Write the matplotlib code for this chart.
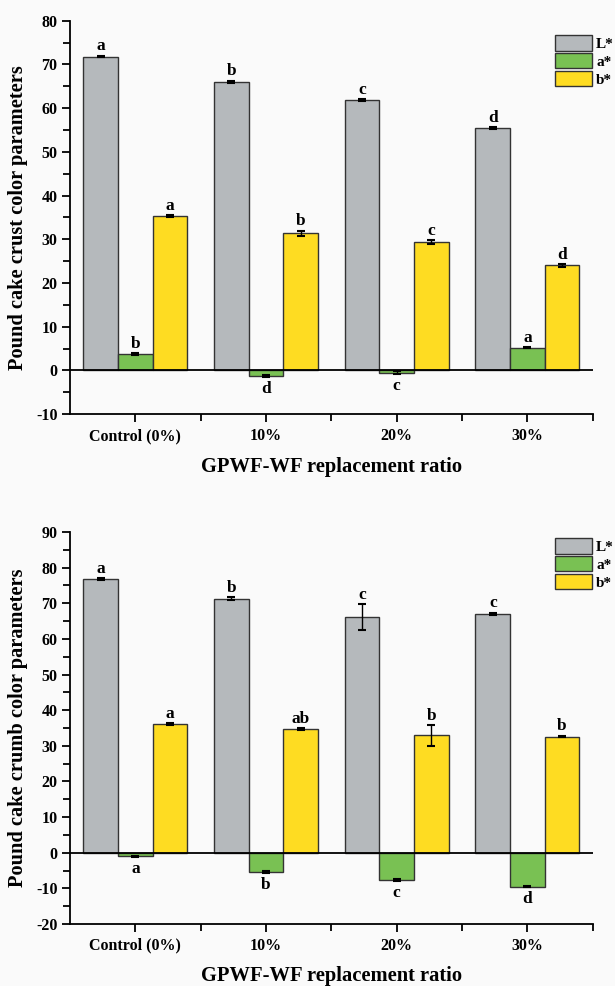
import numpy as np
import matplotlib
matplotlib.use('Agg')
import matplotlib.pyplot as plt
from matplotlib.patches import Patch
from matplotlib.ticker import MultipleLocator, FixedLocator

groups = ['Control (0%)', '10%', '20%', '30%']
series = ['L*', 'a*', 'b*']

# crust
crust_L = [71.8, 66.0, 61.9, 55.5]
crust_a = [3.8, -1.3, -0.5, 5.2]
crust_b = [35.3, 31.4, 29.4, 24.0]
crust_L_err = [0.2, 0.3, 0.2, 0.2]
crust_a_err = [0.2, 0.2, 0.3, 0.1]
crust_b_err = [0.2, 0.6, 0.4, 0.3]
crust_L_sig = ['a', 'b', 'c', 'd']
crust_a_sig = ['b', 'd', 'c', 'a']
crust_b_sig = ['a', 'b', 'c', 'd']

# crumb
crumb_L = [76.8, 71.3, 66.2, 67.0]
crumb_a = [-1.0, -5.4, -7.7, -9.5]
crumb_b = [36.0, 34.7, 32.9, 32.6]
crumb_L_err = [0.2, 0.4, 3.6, 0.3]
crumb_a_err = [0.1, 0.3, 0.2, 0.2]
crumb_b_err = [0.3, 0.3, 2.9, 0.2]
crumb_L_sig = ['a', 'b', 'c', 'c']
crumb_a_sig = ['a', 'b', 'c', 'd']
crumb_b_sig = ['a', 'ab', 'b', 'b']

colors = ['#b5b9bc', '#79c153', '#fedc22']
bg = '#fafafa'
font = 'Liberation Serif'
plt.rcParams['axes.unicode_minus'] = False


def panel(ax, vals, errs, sigs, ylabel, ylim):
    x = np.arange(1, len(groups) + 1)
    w = 0.265
    for i in range(3):
        xs = x + (i - 1) * w
        ax.bar(xs, vals[i], w, color=colors[i], edgecolor='#333333',
               linewidth=1.0, zorder=2)
        ax.errorbar(xs, vals[i], yerr=errs[i], fmt='none', ecolor='black',
                    elinewidth=1.0, capsize=3, capthick=1.5, zorder=3)
        for j in range(len(xs)):
            v = vals[i][j]
            e = errs[i][j]
            if v >= 0:
                ax.annotate(sigs[i][j], (xs[j], v + e), xytext=(0, 1),
                            textcoords='offset points', ha='center',
                            va='bottom', fontsize=12.5, fontweight='bold',
                            family=font)
            else:
                ax.annotate(sigs[i][j], (xs[j], v - e), xytext=(0, -3),
                            textcoords='offset points', ha='center',
                            va='top', fontsize=12.5, fontweight='bold',
                            family=font)
    ax.axhline(0, color='black', linewidth=1.3, zorder=4)
    ax.set_xlim(0.5, 4.5)
    ax.set_ylim(*ylim)
    ax.set_xticks(x)
    ax.set_xticklabels(groups)
    ax.xaxis.set_minor_locator(FixedLocator([1.5, 2.5, 3.5, 4.5]))
    ax.yaxis.set_major_locator(MultipleLocator(10))
    ax.yaxis.set_minor_locator(MultipleLocator(5))
    ax.tick_params(axis='both', which='major', direction='out', length=6,
                   width=1.3, labelsize=11.5, pad=3)
    ax.tick_params(axis='both', which='minor', direction='out', length=5,
                   width=1.3)
    ax.tick_params(axis='x', which='major', pad=4)
    for lab in ax.get_xticklabels() + ax.get_yticklabels():
        lab.set_fontweight('bold')
        lab.set_family(font)
    ax.spines['top'].set_visible(False)
    ax.spines['right'].set_visible(False)
    ax.spines['left'].set_linewidth(1.3)
    ax.spines['bottom'].set_linewidth(1.3)
    ax.set_facecolor(bg)
    ax.set_ylabel(ylabel, fontsize=14.7, fontweight='bold', family=font)
    ax.yaxis.set_label_coords(-0.08, 0.5)
    ax.set_xlabel('GPWF-WF replacement ratio', fontsize=14.8,
                  fontweight='bold', family=font, labelpad=9)


fig = plt.figure(figsize=(6.15, 9.86), dpi=100, facecolor=bg)

ax1 = fig.add_axes([0.1138, 0.580, 0.850, 0.399])
panel(ax1, [crust_L, crust_a, crust_b],
      [crust_L_err, crust_a_err, crust_b_err],
      [crust_L_sig, crust_a_sig, crust_b_sig],
      'Pound cake crust color parameters', (-10, 80))

ax2 = fig.add_axes([0.1138, 0.0629, 0.850, 0.3976])
panel(ax2, [crumb_L, crumb_a, crumb_b],
      [crumb_L_err, crumb_a_err, crumb_b_err],
      [crumb_L_sig, crumb_a_sig, crumb_b_sig],
      'Pound cake crumb color parameters', (-20, 90))

for ytop in [35, 538]:
    handles = [Patch(facecolor=colors[i], edgecolor='#333333', linewidth=1.0)
               for i in range(3)]
    fig.legend(handles, series, loc='upper left',
               bbox_to_anchor=(555 / 615, 1 - ytop / 986),
               frameon=False, borderpad=0, borderaxespad=0,
               handlelength=2.45, handleheight=1.2, labelspacing=0.12,
               handletextpad=0.25,
               prop={'family': font, 'weight': 'bold', 'size': 11})

fig.savefig('out.png', dpi=100, facecolor=bg)
